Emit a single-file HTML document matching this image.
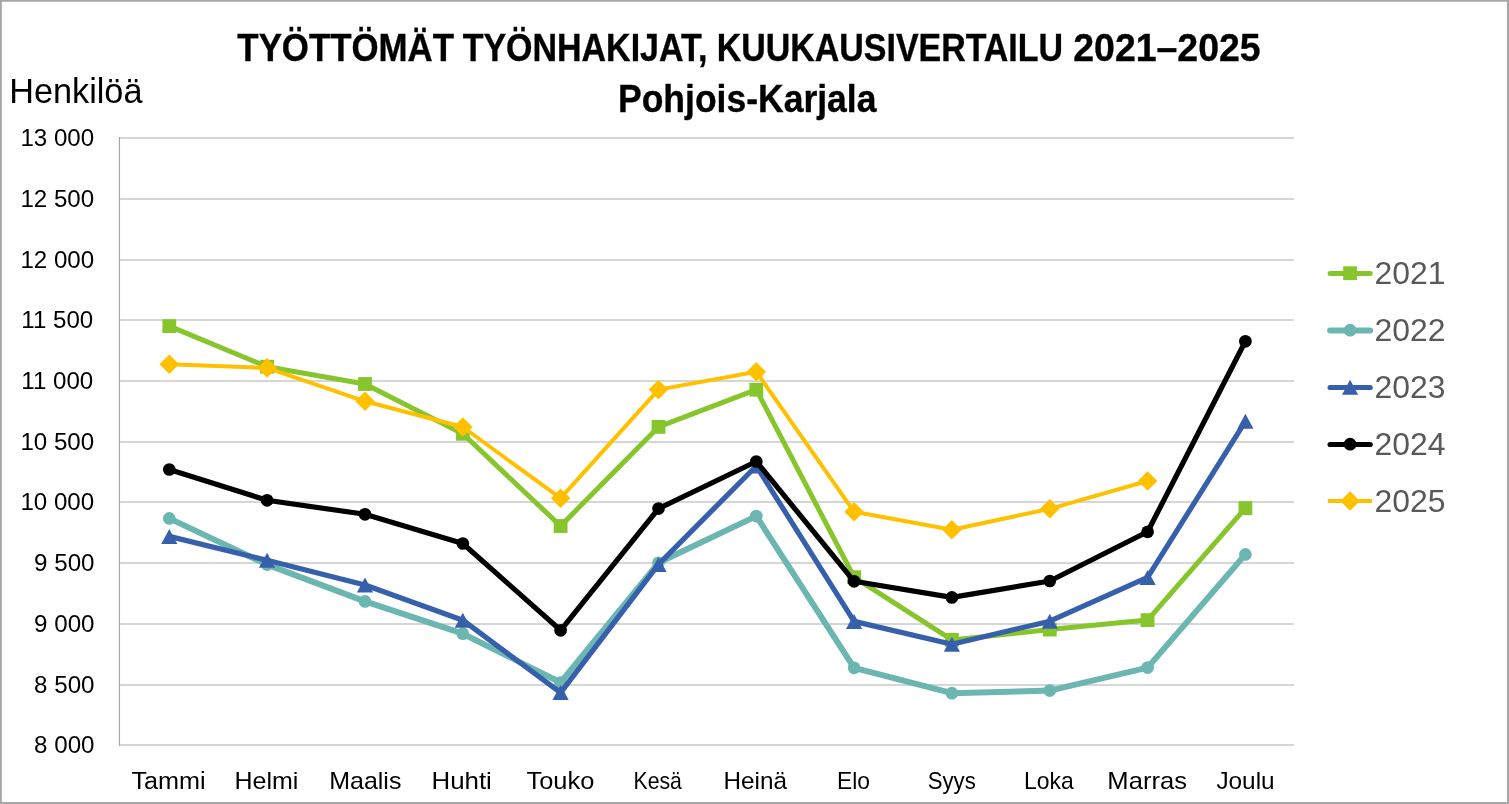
<!DOCTYPE html>
<html lang="fi"><head><meta charset="utf-8"><title>Työttömät työnhakijat, kuukausivertailu 2021–2025 – Pohjois-Karjala</title>
<style>html,body{margin:0;padding:0;background:#fff}body{width:1509px;height:804px;overflow:hidden}svg{display:block}text{font-family:"Liberation Sans",sans-serif}</style></head><body>
<svg width="1509" height="804" viewBox="0 0 1509 804">
<rect x="0" y="0" width="1509" height="804" fill="#ffffff"/>
<path d="M0 0H1509V804H0Z M1.85 1.85V802H1507V1.85Z" fill="#a6a6a6" fill-rule="evenodd"/>
<g fill="#d6d6d6" shape-rendering="crispEdges">
<rect x="120" y="137" width="1174" height="2"/>
<rect x="120" y="198" width="1174" height="2"/>
<rect x="120" y="259" width="1174" height="2"/>
<rect x="120" y="319" width="1174" height="2"/>
<rect x="120" y="380" width="1174" height="2"/>
<rect x="120" y="441" width="1174" height="2"/>
<rect x="120" y="501" width="1174" height="2"/>
<rect x="120" y="562" width="1174" height="2"/>
<rect x="120" y="623" width="1174" height="2"/>
<rect x="120" y="684" width="1174" height="2"/>
<rect x="120" y="744" width="1174" height="2"/>
</g>
<rect x="118.85" y="137" width="1.2" height="609" fill="#a6a6a6"/>
<g font-size="23.6" fill="#000">
<text transform="translate(57.24 146.0) scale(1.0211 1)" text-anchor="middle">13 000</text>
<text transform="translate(57.24 207.0) scale(1.0211 1)" text-anchor="middle">12 500</text>
<text transform="translate(57.24 268.0) scale(1.0211 1)" text-anchor="middle">12 000</text>
<text transform="translate(57.24 328.0) scale(1.0211 1)" text-anchor="middle">11 500</text>
<text transform="translate(57.24 389.0) scale(1.0211 1)" text-anchor="middle">11 000</text>
<text transform="translate(57.24 450.0) scale(1.0211 1)" text-anchor="middle">10 500</text>
<text transform="translate(57.24 510.0) scale(1.0211 1)" text-anchor="middle">10 000</text>
<text transform="translate(64.30 571.0) scale(1.0241 1)" text-anchor="middle">9 500</text>
<text transform="translate(64.30 632.0) scale(1.0241 1)" text-anchor="middle">9 000</text>
<text transform="translate(64.30 693.0) scale(1.0241 1)" text-anchor="middle">8 500</text>
<text transform="translate(64.30 753.0) scale(1.0241 1)" text-anchor="middle">8 000</text>
</g>
<g font-size="23" fill="#000">
<text transform="translate(168.60 788.6) scale(1.0970 1)" text-anchor="middle">Tammi</text>
<text transform="translate(266.45 788.6) scale(1.0875 1)" text-anchor="middle">Helmi</text>
<text transform="translate(365.31 788.6) scale(1.0877 1)" text-anchor="middle">Maalis</text>
<text transform="translate(461.64 788.6) scale(1.1255 1)" text-anchor="middle">Huhti</text>
<text transform="translate(560.40 788.6) scale(1.1033 1)" text-anchor="middle">Touko</text>
<text transform="translate(657.68 788.6) scale(0.9231 1)" text-anchor="middle">Kesä</text>
<text transform="translate(755.19 788.6) scale(1.0569 1)" text-anchor="middle">Heinä</text>
<text transform="translate(853.50 788.6) scale(0.9935 1)" text-anchor="middle">Elo</text>
<text transform="translate(951.75 788.6) scale(0.9646 1)" text-anchor="middle">Syys</text>
<text transform="translate(1048.95 788.6) scale(0.9979 1)" text-anchor="middle">Loka</text>
<text transform="translate(1147.14 788.6) scale(1.1130 1)" text-anchor="middle">Marras</text>
<text transform="translate(1245.48 788.6) scale(1.0585 1)" text-anchor="middle">Joulu</text>
</g>
<g font-weight="bold" fill="#000" stroke="#000" stroke-width="0.35">
<g font-size="38.5">
<text transform="translate(345.70 60.8) scale(0.9050 1)" text-anchor="middle">TYÖTTÖMÄT</text>
<text transform="translate(585.03 60.8) scale(0.8830 1)" text-anchor="middle">TYÖNHAKIJAT,</text>
<text transform="translate(889.91 60.8) scale(0.8815 1)" text-anchor="middle">KUUKAUSIVERTAILU</text>
<text transform="translate(1166.96 60.8) scale(0.9723 1)" text-anchor="middle">2021–2025</text>
</g>
<text transform="translate(747.22 111.9) scale(0.9226 1)" text-anchor="middle" font-size="38.5">Pohjois-Karjala</text>
</g>
<text transform="translate(75.82 103.0) scale(0.9791 1)" text-anchor="middle" font-size="35" fill="#000">Henkilöä</text>
<g><polyline points="169.3,326.1 267.1,366.7 365.0,384.0 462.8,433.8 560.6,526.0 658.5,426.9 756.3,389.7 854.1,577.2 951.9,639.9 1049.8,629.6 1147.6,620.1 1245.4,508.1" fill="none" stroke="#86c52b" stroke-width="5.0" stroke-linejoin="round" stroke-linecap="round"/>
<rect x="162.4" y="319.2" width="13.8" height="13.8" fill="#86c52b"/>
<rect x="260.2" y="359.8" width="13.8" height="13.8" fill="#86c52b"/>
<rect x="358.1" y="377.1" width="13.8" height="13.8" fill="#86c52b"/>
<rect x="455.9" y="426.9" width="13.8" height="13.8" fill="#86c52b"/>
<rect x="553.7" y="519.1" width="13.8" height="13.8" fill="#86c52b"/>
<rect x="651.6" y="420.0" width="13.8" height="13.8" fill="#86c52b"/>
<rect x="749.4" y="382.8" width="13.8" height="13.8" fill="#86c52b"/>
<rect x="847.2" y="570.3" width="13.8" height="13.8" fill="#86c52b"/>
<rect x="945.0" y="633.0" width="13.8" height="13.8" fill="#86c52b"/>
<rect x="1042.9" y="622.7" width="13.8" height="13.8" fill="#86c52b"/>
<rect x="1140.7" y="613.2" width="13.8" height="13.8" fill="#86c52b"/>
<rect x="1238.5" y="501.2" width="13.8" height="13.8" fill="#86c52b"/>
</g>
<g><polyline points="169.3,518.4 267.1,564.6 365.0,601.4 462.8,633.7 560.6,682.5 658.5,562.8 756.3,516.1 854.1,667.8 951.9,693.2 1049.8,690.6 1147.6,667.6 1245.4,554.4" fill="none" stroke="#6cb6b1" stroke-width="6.0" stroke-linejoin="round" stroke-linecap="round"/>
<circle cx="169.3" cy="518.4" r="6.35" fill="#6cb6b1"/>
<circle cx="267.1" cy="564.6" r="6.35" fill="#6cb6b1"/>
<circle cx="365.0" cy="601.4" r="6.35" fill="#6cb6b1"/>
<circle cx="462.8" cy="633.7" r="6.35" fill="#6cb6b1"/>
<circle cx="560.6" cy="682.5" r="6.35" fill="#6cb6b1"/>
<circle cx="658.5" cy="562.8" r="6.35" fill="#6cb6b1"/>
<circle cx="756.3" cy="516.1" r="6.35" fill="#6cb6b1"/>
<circle cx="854.1" cy="667.8" r="6.35" fill="#6cb6b1"/>
<circle cx="951.9" cy="693.2" r="6.35" fill="#6cb6b1"/>
<circle cx="1049.8" cy="690.6" r="6.35" fill="#6cb6b1"/>
<circle cx="1147.6" cy="667.6" r="6.35" fill="#6cb6b1"/>
<circle cx="1245.4" cy="554.4" r="6.35" fill="#6cb6b1"/>
</g>
<g><polyline points="169.3,536.4 267.1,560.3 365.0,585.0 462.8,620.2 560.6,692.6 658.5,564.4 756.3,466.0 854.1,621.4 951.9,644.2 1049.8,621.2 1147.6,577.4 1245.4,421.3" fill="none" stroke="#3760ac" stroke-width="5.2" stroke-linejoin="round" stroke-linecap="round"/>
<polygon points="169.3,528.9 177.4,543.9 161.2,543.9" fill="#3760ac"/>
<polygon points="267.1,552.8 275.2,567.8 259.0,567.8" fill="#3760ac"/>
<polygon points="365.0,577.5 373.1,592.5 356.9,592.5" fill="#3760ac"/>
<polygon points="462.8,612.7 470.9,627.7 454.7,627.7" fill="#3760ac"/>
<polygon points="560.6,685.1 568.7,700.1 552.5,700.1" fill="#3760ac"/>
<polygon points="658.5,556.9 666.6,571.9 650.4,571.9" fill="#3760ac"/>
<polygon points="756.3,458.5 764.4,473.5 748.2,473.5" fill="#3760ac"/>
<polygon points="854.1,613.9 862.2,628.9 846.0,628.9" fill="#3760ac"/>
<polygon points="951.9,636.7 960.0,651.7 943.8,651.7" fill="#3760ac"/>
<polygon points="1049.8,613.7 1057.9,628.7 1041.7,628.7" fill="#3760ac"/>
<polygon points="1147.6,569.9 1155.7,584.9 1139.5,584.9" fill="#3760ac"/>
<polygon points="1245.4,413.8 1253.5,428.8 1237.3,428.8" fill="#3760ac"/>
</g>
<g><polyline points="169.3,469.5 267.1,500.3 365.0,514.3 462.8,543.5 560.6,630.3 658.5,508.6 756.3,461.5 854.1,581.3 951.9,597.4 1049.8,581.0 1147.6,531.8 1245.4,341.3" fill="none" stroke="#000000" stroke-width="5.2" stroke-linejoin="round" stroke-linecap="round"/>
<circle cx="169.3" cy="469.5" r="6.35" fill="#000000"/>
<circle cx="267.1" cy="500.3" r="6.35" fill="#000000"/>
<circle cx="365.0" cy="514.3" r="6.35" fill="#000000"/>
<circle cx="462.8" cy="543.5" r="6.35" fill="#000000"/>
<circle cx="560.6" cy="630.3" r="6.35" fill="#000000"/>
<circle cx="658.5" cy="508.6" r="6.35" fill="#000000"/>
<circle cx="756.3" cy="461.5" r="6.35" fill="#000000"/>
<circle cx="854.1" cy="581.3" r="6.35" fill="#000000"/>
<circle cx="951.9" cy="597.4" r="6.35" fill="#000000"/>
<circle cx="1049.8" cy="581.0" r="6.35" fill="#000000"/>
<circle cx="1147.6" cy="531.8" r="6.35" fill="#000000"/>
<circle cx="1245.4" cy="341.3" r="6.35" fill="#000000"/>
</g>
<g><polyline points="169.3,364.2 267.1,367.9 365.0,401.3 462.8,427.0 560.6,498.2 658.5,389.6 756.3,371.8 854.1,511.8 951.9,529.7 1049.8,508.8 1147.6,481.0" fill="none" stroke="#ffc000" stroke-width="4.0" stroke-linejoin="round" stroke-linecap="round"/>
<polygon points="169.3,354.4 179.1,364.2 169.3,374.0 159.5,364.2" fill="#ffc000"/>
<polygon points="267.1,358.1 276.9,367.9 267.1,377.7 257.3,367.9" fill="#ffc000"/>
<polygon points="365.0,391.5 374.8,401.3 365.0,411.1 355.2,401.3" fill="#ffc000"/>
<polygon points="462.8,417.2 472.6,427.0 462.8,436.8 453.0,427.0" fill="#ffc000"/>
<polygon points="560.6,488.4 570.4,498.2 560.6,508.0 550.8,498.2" fill="#ffc000"/>
<polygon points="658.5,379.8 668.2,389.6 658.5,399.4 648.7,389.6" fill="#ffc000"/>
<polygon points="756.3,362.0 766.1,371.8 756.3,381.6 746.5,371.8" fill="#ffc000"/>
<polygon points="854.1,502.0 863.9,511.8 854.1,521.6 844.3,511.8" fill="#ffc000"/>
<polygon points="951.9,519.9 961.7,529.7 951.9,539.5 942.1,529.7" fill="#ffc000"/>
<polygon points="1049.8,499.0 1059.6,508.8 1049.8,518.6 1040.0,508.8" fill="#ffc000"/>
<polygon points="1147.6,471.2 1157.4,481.0 1147.6,490.8 1137.8,481.0" fill="#ffc000"/>
</g>
<line x1="1330.1" y1="273.5" x2="1370.2" y2="273.5" stroke="#86c52b" stroke-width="5.0" stroke-linecap="round"/>
<rect x="1343.2" y="266.3" width="13.8" height="13.8" fill="#86c52b"/>
<text transform="translate(1409.90 283.9) scale(0.9942 1)" text-anchor="middle" font-size="32.1" fill="#595959">2021</text>
<line x1="1330.1" y1="330.5" x2="1370.2" y2="330.5" stroke="#6cb6b1" stroke-width="6.0" stroke-linecap="round"/>
<circle cx="1350.1" cy="330.2" r="6.35" fill="#6cb6b1"/>
<text transform="translate(1409.90 340.9) scale(0.9942 1)" text-anchor="middle" font-size="32.1" fill="#595959">2022</text>
<line x1="1330.1" y1="387.5" x2="1370.2" y2="387.5" stroke="#3760ac" stroke-width="5.2" stroke-linecap="round"/>
<polygon points="1350.1,379.7 1358.2,394.7 1342.0,394.7" fill="#3760ac"/>
<text transform="translate(1409.90 397.9) scale(0.9942 1)" text-anchor="middle" font-size="32.1" fill="#595959">2023</text>
<line x1="1330.1" y1="444.5" x2="1370.2" y2="444.5" stroke="#000000" stroke-width="5.2" stroke-linecap="round"/>
<circle cx="1350.1" cy="444.2" r="6.35" fill="#000000"/>
<text transform="translate(1409.90 454.9) scale(0.9942 1)" text-anchor="middle" font-size="32.1" fill="#595959">2024</text>
<line x1="1327.8" y1="501.0" x2="1372" y2="501.0" stroke="#ffc000" stroke-width="4.0"/>
<polygon points="1350.1,491.2 1359.9,501.0 1350.1,510.8 1340.3,501.0" fill="#ffc000"/>
<text transform="translate(1409.90 511.7) scale(0.9942 1)" text-anchor="middle" font-size="32.1" fill="#595959">2025</text>
</svg></body></html>
